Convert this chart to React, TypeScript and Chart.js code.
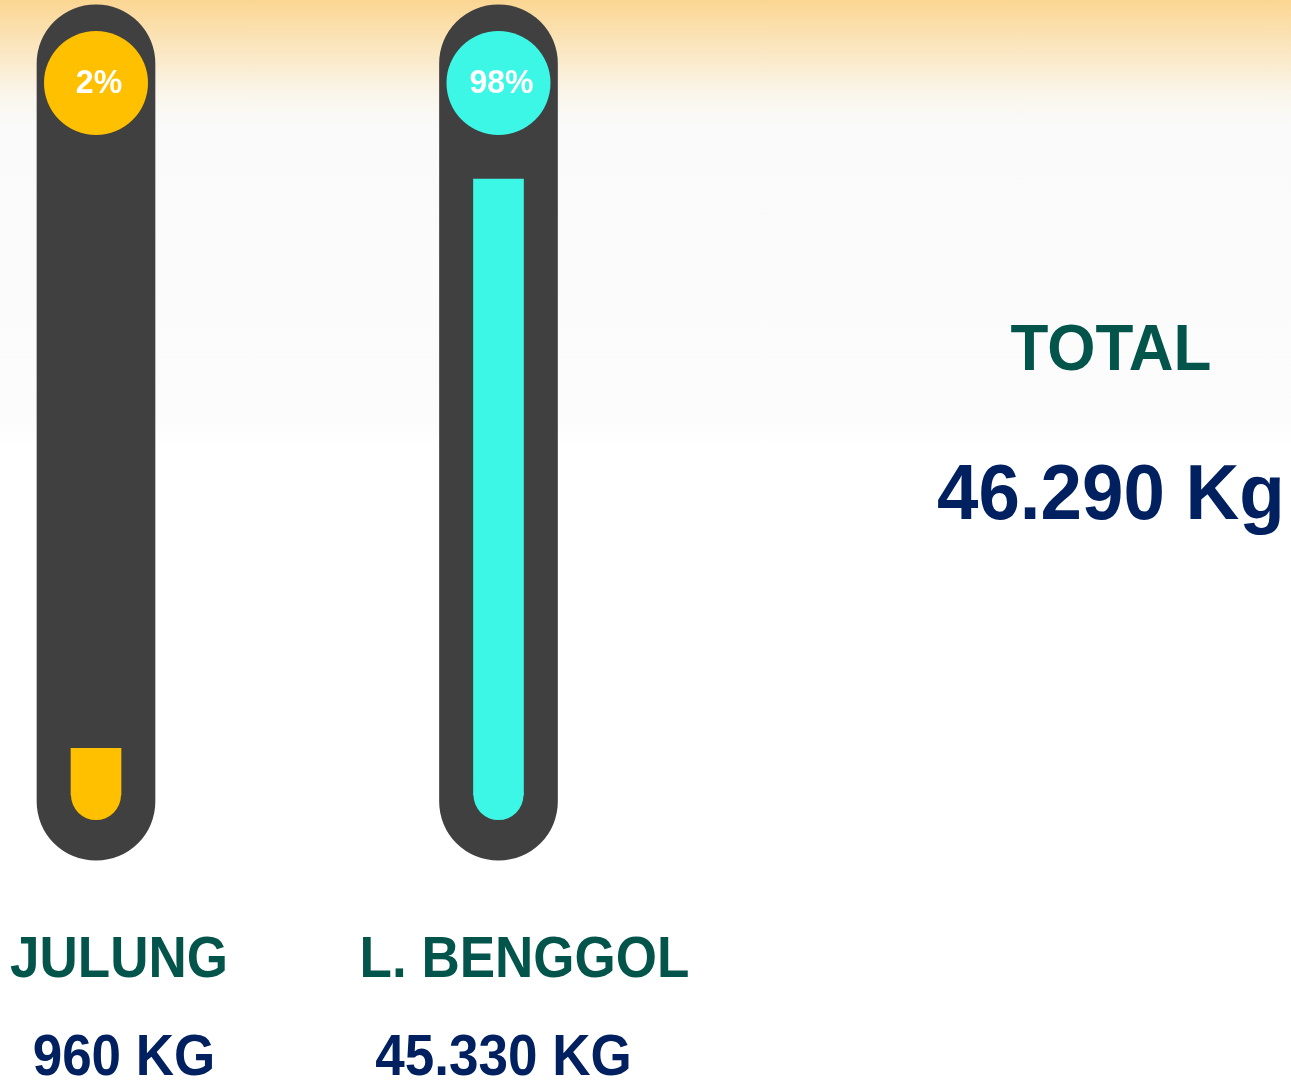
import React, { useEffect, useRef } from "react";
import { Chart, registerables } from "chart.js";

Chart.register(...registerables);

// ---- data ----
const categories = ["JULUNG", "L. BENGGOL"];
const weightLabels = ["960 KG", "45.330 KG"];
const percents = [2, 98];
const percentLabels = ["2%", "98%"];
const totalTitle = "TOTAL";
const totalLabel = "46.290 Kg";

// ---- styling / geometry (value-axis levels of decorative parts) ----
const fillColors = ["#FFC000", "#3CF6E6"];
const TUBE_COLOR = "#404040";
const NAME_COLOR = "#03544A";
const VALUE_COLOR = "#002060";
const TUBE_LOW = -16.9;
const TUBE_HIGH = 127.4;
const BULB_LEVEL = -5.9;
const CAP_LEVEL = 114.2;
const FONT = '"Liberation Sans", Arial, Helvetica, sans-serif';

const W = 1291;
const H = 1082;

function drawText(
  ctx: CanvasRenderingContext2D,
  text: string,
  x: number,
  baseline: number,
  size: number,
  color: string,
  sy: number
) {
  ctx.save();
  ctx.translate(x, baseline);
  ctx.scale(1, sy);
  ctx.font = `bold ${size}px ${FONT}`;
  ctx.fillStyle = color;
  ctx.textAlign = "center";
  ctx.textBaseline = "alphabetic";
  ctx.fillText(text, 0, 0);
  ctx.restore();
}

const labelPlugin = {
  id: "thermoLabels",
  afterDatasetsDraw(chart: any) {
    const ctx: CanvasRenderingContext2D = chart.ctx;
    const xs = chart.scales.x;
    // percentage labels in the top circles
    const capMeta = chart.getDatasetMeta(3);
    capMeta.data.forEach((el: any, i: number) => {
      ctx.save();
      ctx.translate(el.x + 3, el.y + 1);
      ctx.scale(1, 1.05);
      ctx.font = `bold 32px ${FONT}`;
      ctx.fillStyle = "#FFFFFF";
      ctx.textAlign = "center";
      ctx.textBaseline = "middle";
      ctx.fillText(percentLabels[i], 0, 0);
      ctx.restore();
    });
    const nameOffsets = [23, 26];
    const valueOffsets = [28, 5];
    categories.forEach((c, i) => {
      const cx = xs.getPixelForValue(i);
      drawText(ctx, c, cx + nameOffsets[i], 977, 53, NAME_COLOR, 1.07);
      drawText(ctx, weightLabels[i], cx + valueOffsets[i], 1075, 53, VALUE_COLOR, 1.07);
    });
    const tx = chart.width * 0.8605;
    drawText(ctx, totalTitle, tx, 370, 62, NAME_COLOR, 1.06);
    drawText(ctx, totalLabel, tx, 519, 74.5, VALUE_COLOR, 1.04);
  },
};

export default function App() {
  const canvasRef = useRef<HTMLCanvasElement | null>(null);

  useEffect(() => {
    if (!canvasRef.current) return;
    const chart = new Chart(canvasRef.current, {
      type: "bar",
      data: {
        datasets: [
          {
            type: "bar",
            label: "tube",
            data: categories.map((_, i) => ({ x: i, y: [TUBE_LOW, TUBE_HIGH] })) as any,
            backgroundColor: TUBE_COLOR,
            barThickness: 118,
            borderRadius: 59,
            borderSkipped: false,
            grouped: false,
            order: 4,
          } as any,
          {
            type: "bar",
            label: "fill",
            data: percents.map((p, i) => ({ x: i, y: [BULB_LEVEL, p] })) as any,
            backgroundColor: fillColors,
            barThickness: 50,
            borderSkipped: false,
            grouped: false,
            order: 3,
          } as any,
          {
            type: "bubble",
            label: "bulb",
            data: categories.map((_, i) => ({ x: i, y: BULB_LEVEL, r: 25 })) as any,
            backgroundColor: fillColors,
            borderWidth: 0,
            order: 2,
          } as any,
          {
            type: "bubble",
            label: "cap",
            data: categories.map((_, i) => ({ x: i, y: CAP_LEVEL, r: 52 })) as any,
            backgroundColor: fillColors,
            borderWidth: 0,
            order: 1,
          } as any,
        ],
      },
      options: {
        animation: false,
        responsive: false,
        maintainAspectRatio: false,
        layout: { padding: 0, autoPadding: false },
        events: [],
        plugins: {
          legend: { display: false },
          tooltip: { enabled: false },
          title: { display: false },
        },
        scales: {
          x: {
            type: "linear",
            min: -0.2385,
            max: 2.969,
            display: false,
            offset: false,
          },
          y: {
            type: "linear",
            min: -54.3,
            max: 128.2,
            display: false,
          },
        },
      } as any,
      plugins: [labelPlugin],
    });
    return () => chart.destroy();
  }, []);

  return (
    <div
      style={{
        position: "absolute",
        left: 0,
        top: 0,
        width: W,
        height: H,
        overflow: "hidden",
        background:
          "linear-gradient(to bottom, #FBD692 0px, #FAF6EC 95px, #FAFAFA 125px, #FCFCFC 420px, #FFFFFF 445px, #FFFFFF 100%)",
      }}
    >
      <canvas ref={canvasRef} width={W} height={H} style={{ display: "block" }} />
    </div>
  );
}
